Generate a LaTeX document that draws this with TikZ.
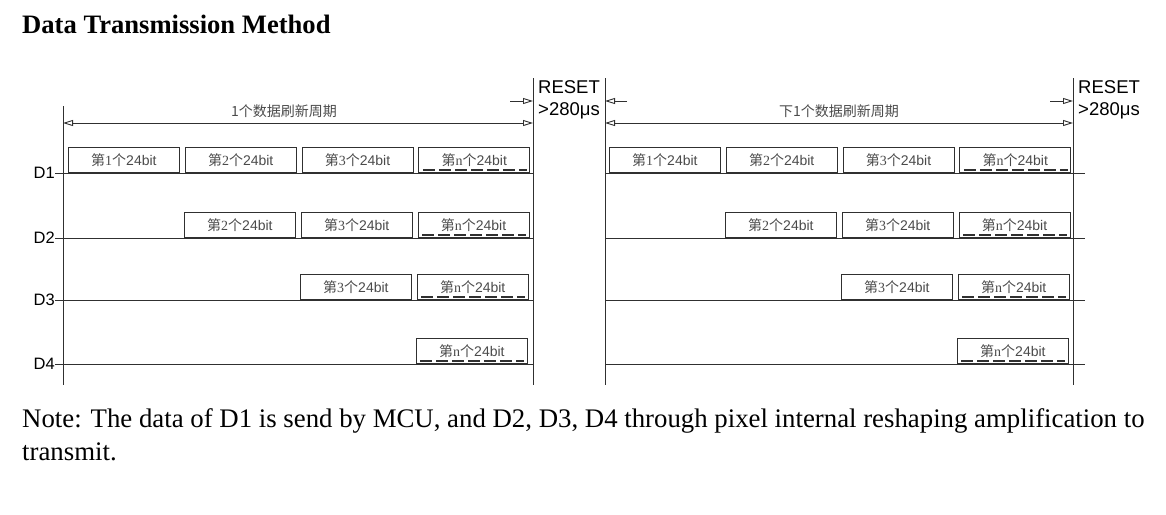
\documentclass[tikz,border=0pt]{standalone}
\usepackage{fontspec}
\setmainfont{Liberation Serif}
\setsansfont{Liberation Sans}
\newfontfamily\cjk{Noto Sans CJK SC}
\usepackage{xcolor}
\usetikzlibrary{arrows.meta,positioning}

\definecolor{linegray}{HTML}{303030}
\definecolor{textgray}{HTML}{4A4A4A}

\newcommand{\bitlabel}[1]{{\cjk 第}#1{\cjk 个}{\sffamily 24bit}}

\begin{document}
\begin{tikzpicture}[
  x=1pt, y=-1pt,
  node distance=5pt,
  >={Triangle[open,length=10pt,width=6pt]},
  wire/.style={draw=linegray, line width=0.9pt},
  bitbox/.style={
    draw=linegray,
    line width=0.8pt,
    anchor=south west,
    minimum width=111pt,
    minimum height=25pt,
    inner sep=0pt,
    text=textgray,
    font=\fontsize{14}{15}\selectfont
  },
  lastbox/.style={
    bitbox,
    path picture={
      \draw[linegray, line width=1.8pt, dash pattern=on 12pt off 4pt]
        ([xshift=4pt,yshift=3pt]path picture bounding box.south west) --
        ([xshift=-3pt,yshift=3pt]path picture bounding box.south east);
    }
  },
  dlabel/.style={anchor=east, inner sep=0pt, font=\sffamily\fontsize{16.5}{18}\selectfont},
  reset/.style={anchor=base west, inner sep=0pt, font=\sffamily\fontsize{18.5}{21}\selectfont},
  period/.style={wire, <->},
  periodlabel/.style={text=textgray, font=\cjk\fontsize{14}{16}\selectfont, inner sep=0pt}
]
\useasboundingbox (0,0) rectangle (1166,514);

\node[anchor=base west, inner sep=0pt, font=\bfseries\fontsize{26.6}{30}\selectfont] (title) at (22,33) {Data Transmission Method};

% frame lines
\coordinate (l1t) at (63,106);  \coordinate (l1b) at (63,385);
\coordinate (l2t) at (533,78);  \coordinate (l2b) at (533,385);
\coordinate (r1t) at (605,78);  \coordinate (r1b) at (605,385);
\coordinate (r2t) at (1073,78); \coordinate (r2b) at (1073,385);
\draw[wire] (l1t) -- (l1b);
\draw[wire] (l2t) -- (l2b);
\draw[wire] (r1t) -- (r1b);
\draw[wire] (r2t) -- (r2b);

% data lines
\foreach \n/\y in {1/173,2/238,3/300,4/364} {
  \node[dlabel] (d\n) at (55,\y) {D\n};
  \coordinate (le\n) at (533,\y);
  \coordinate (rs\n) at (605,\y);
  \coordinate (re\n) at (1085,\y);
  \draw[wire] (d\n.east) -- (le\n);
  \draw[wire] (rs\n) -- (re\n);
}

% refresh periods
\coordinate (pl1) at (63,123);  \coordinate (pl2) at (533,123);
\coordinate (pr1) at (605,123); \coordinate (pr2) at (1073,123);
\draw[period] (pl1) -- node[periodlabel, above=5pt, pos=0.47] (plabel) {1个数据刷新周期} (pl2);
\draw[period] (pr1) -- node[periodlabel, above=5pt] (rlabel) {下1个数据刷新周期} (pr2);

% reset gaps
\coordinate (ga1) at (510,101);  \coordinate (ga2) at (533,101);
\coordinate (gb1) at (627,101);  \coordinate (gb2) at (605,101);
\coordinate (gc1) at (1050,101); \coordinate (gc2) at (1073,101);
\draw[wire, ->] (ga1) -- (ga2);
\draw[wire, ->] (gb1) -- (gb2);
\draw[wire, ->] (gc1) -- (gc2);
\node[reset] (rst1) at (538,93) {RESET};
\node[reset] (rsv1) at (538,115) {>280μs};
\node[reset] (rst2) at (1078,93) {RESET};
\node[reset] (rsv2) at (1078,115) {>280μs};

% left frame
\node[bitbox] (a11) at (68,173) {\bitlabel{1}};
\node[bitbox, right=of a11] (a12) {\bitlabel{2}};
\node[bitbox, right=of a12] (a13) {\bitlabel{3}};
\node[lastbox, right=of a13] (a14) {\bitlabel{n}};
\node[bitbox] (a22) at (184,238) {\bitlabel{2}};
\node[bitbox, right=of a22] (a23) {\bitlabel{3}};
\node[lastbox, right=of a23] (a24) {\bitlabel{n}};
\node[bitbox] (a33) at (300,300) {\bitlabel{3}};
\node[lastbox, right=of a33] (a34) {\bitlabel{n}};
\node[lastbox] (a44) at (416,364) {\bitlabel{n}};

% right frame
\node[bitbox] (b11) at (609,173) {\bitlabel{1}};
\node[bitbox, right=of b11] (b12) {\bitlabel{2}};
\node[bitbox, right=of b12] (b13) {\bitlabel{3}};
\node[lastbox, right=of b13] (b14) {\bitlabel{n}};
\node[bitbox] (b22) at (725,238) {\bitlabel{2}};
\node[bitbox, right=of b22] (b23) {\bitlabel{3}};
\node[lastbox, right=of b23] (b24) {\bitlabel{n}};
\node[bitbox] (b33) at (841,300) {\bitlabel{3}};
\node[lastbox, right=of b33] (b34) {\bitlabel{n}};
\node[lastbox] (b44) at (957,364) {\bitlabel{n}};

\node[anchor=base west, inner sep=0pt, font=\fontsize{26.8}{30}\selectfont] (note1) at (22,427)
  {Note: The data of D1 is send by MCU, and D2, D3, D4 through pixel internal reshaping amplification to};
\node[anchor=base west, inner sep=0pt, font=\fontsize{26.8}{30}\selectfont] (note2) at (22,460) {transmit.};
\end{tikzpicture}
\end{document}
